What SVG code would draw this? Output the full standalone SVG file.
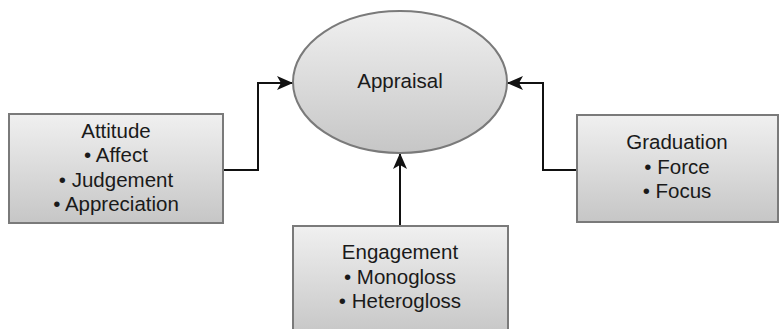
<svg xmlns="http://www.w3.org/2000/svg" width="783" height="329" viewBox="0 0 783 329">
  <style>
    .node { fill: url(#shade); stroke: #7a7a7a; stroke-width: 2; }
    .label { font-family: "Liberation Sans", Arial, sans-serif; font-size: 20.5px; fill: #1a1a1a; text-anchor: middle; }
    .wire { fill: none; stroke: #111; stroke-width: 2; }
  </style>
  <defs>
    <linearGradient id="shade" x1="0" y1="0" x2="0" y2="1">
      <stop offset="0" stop-color="#f0f0f0"/>
      <stop offset="1" stop-color="#c6c6c6"/>
    </linearGradient>
    <!-- notched arrowhead, tip at the path end -->
    <marker id="arrow" viewBox="0 0 16 14" refX="16" refY="7" markerWidth="16" markerHeight="14" markerUnits="userSpaceOnUse" orient="auto">
      <path d="M0,0 L16,7 L0,14 L4,7 z" fill="#111"/>
    </marker>
  </defs>
  <rect width="783" height="329" fill="#fff"/>

  <g id="connectors">
    <path class="wire" d="M223,170 H258 V83 H293" marker-end="url(#arrow)"/>
    <path class="wire" d="M577,170 H543 V83 H507" marker-end="url(#arrow)"/>
    <path class="wire" d="M400,226 V153" marker-end="url(#arrow)"/>
  </g>

  <g id="appraisal">
    <ellipse class="node" cx="400" cy="82" rx="107" ry="71"/>
    <text class="label" x="400" y="88">Appraisal</text>
  </g>

  <g id="attitude">
    <rect class="node" x="9" y="114" width="214" height="109"/>
    <text class="label" x="116" y="138">Attitude</text>
    <text class="label" x="116" y="162">• Affect</text>
    <text class="label" x="116" y="187">• Judgement</text>
    <text class="label" x="116" y="211">• Appreciation</text>
  </g>

  <g id="graduation">
    <rect class="node" x="577" y="115" width="201" height="107"/>
    <text class="label" x="677" y="149">Graduation</text>
    <text class="label" x="677" y="174">• Force</text>
    <text class="label" x="677" y="198">• Focus</text>
  </g>

  <g id="engagement">
    <rect class="node" x="293" y="226" width="215" height="110"/>
    <text class="label" x="400" y="259">Engagement</text>
    <text class="label" x="400" y="284">• Monogloss</text>
    <text class="label" x="400" y="308">• Heterogloss</text>
  </g>
</svg>
